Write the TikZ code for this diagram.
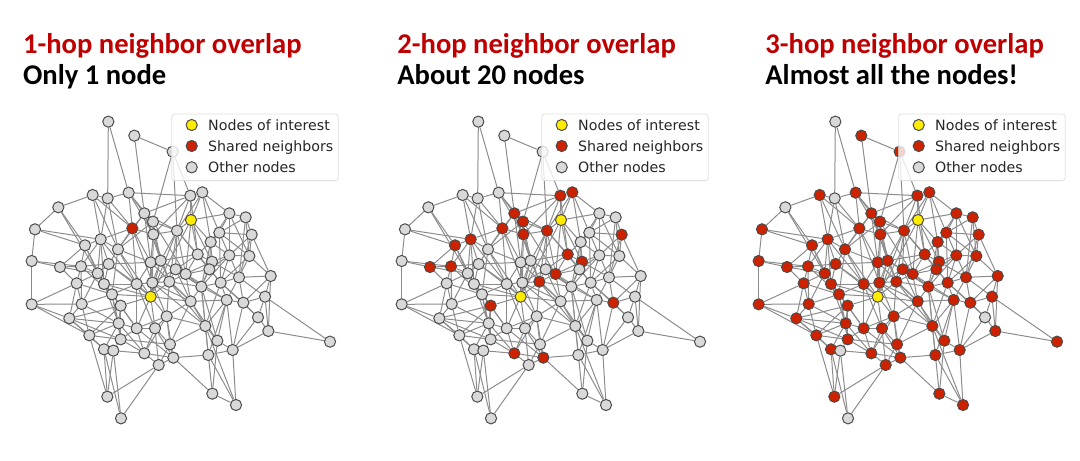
\documentclass[tikz,border=0pt]{standalone}
\usepackage{fontspec}
\newfontfamily\titlefont{Carlito}
\newfontfamily\keyfont{DejaVu Sans}
\usetikzlibrary{positioning,backgrounds}

\definecolor{titlered}{RGB}{192,0,0}
\definecolor{sharedred}{RGB}{204,34,0}
\definecolor{interest}{RGB}{255,236,0}
\definecolor{othergray}{RGB}{217,217,217}

% node number / x / y (in 1/3 px) / hops to both nodes of interest
\newcommand\netnodes{1/235/35/9, 2/313/77/3, 3/428/125/3, 4/188/255/3,
  5/233/265/9, 6/296/248/3, 7/85/292/9, 8/481/257/2, 9/517/247/2,
  10/343/310/2, 11/369/335/2, 12/483/330/0, 13/598/310/3, 14/647/322/3,
  15/15/358/3, 16/307/355/1, 17/370/373/2, 18/441/362/2, 19/665/374/2,
  20/568/368/3, 21/212/388/2, 22/165/406/2, 23/542/396/3, 24/264/418/3,
  25/503/433/2, 26/546/455/2, 27/598/436/3, 28/658/438/3, 29/5/453/3,
  30/90/471/2, 31/153/469/2, 32/236/462/3, 33/362/457/3, 34/392/452/3,
  35/437/478/3, 36/467/492/2, 37/538/478/3, 38/203/490/3, 39/140/520/3,
  40/222/522/3, 41/320/522/3, 42/367/518/3, 43/418/515/2, 44/514/530/3,
  45/572/518/3, 46/627/502/3, 47/722/498/3, 48/246/553/3, 49/362/560/0,
  50/272/587/2, 51/155/582/3, 52/5/583/3, 53/482/574/3, 54/590/570/3,
  55/640/578/2, 56/705/560/3, 57/118/625/3, 58/266/640/3, 59/320/655/3,
  60/375/655/3, 61/410/619/3, 62/526/648/3, 63/684/622/9, 64/178/676/3,
  65/272/688/3, 66/715/663/3, 67/900/695/3, 68/222/718/3, 69/250/722/9,
  70/420/703/3, 71/343/730/2, 72/430/743/2, 73/386/765/3, 74/535/735/3,
  75/608/720/3, 76/562/692/3, 77/232/860/3, 78/547/851/3, 79/618/885/3,
  80/273/925/9}

\newcommand\netedges{1/5,1/6,2/3,2/10,3/8,3/11,3/18,
  4/5,4/7,4/21,4/24,5/6,5/21,5/16,6/10,6/16,6/8,
  7/15,7/22,7/38,8/9,8/12,8/10,8/18,8/17,
  9/13,9/12,9/20,9/23,10/11,10/16,10/17,10/18,10/24,
  11/17,11/18,11/24,11/36,12/18,12/23,12/13,12/25,12/36,
  13/14,13/20,13/27,13/23,14/19,14/28,14/20,
  15/29,15/22,15/21,16/21,16/24,16/33,16/17,16/42,
  17/18,17/33,17/34,17/43,18/25,18/35,18/34,18/37,
  19/28,19/47,19/20,19/46,20/23,20/27,20/28,
  21/22,21/24,21/31,21/32,21/38,21/41,22/31,22/30,22/40,
  23/25,23/26,23/27,23/44,24/32,24/33,24/41,24/49,
  25/26,25/36,25/34,25/45,26/37,26/27,26/36,26/44,26/46,
  27/28,27/46,27/45,27/37,28/47,28/46,28/45,
  29/30,29/52,29/31,30/31,30/39,30/38,31/38,31/39,31/32,31/48,
  32/38,32/40,32/33,32/41,32/49,33/34,33/42,33/41,33/53,
  34/35,34/42,34/43,34/44,35/36,35/43,35/42,35/53,
  36/37,36/44,36/43,36/54,37/45,37/44,
  38/40,38/39,38/48,38/51,39/51,39/52,39/57,39/48,
  40/48,40/41,40/50,40/58,41/42,41/49,41/48,41/59,41/60,
  42/49,42/43,42/61,42/62,43/53,43/49,43/61,43/44,
  44/45,44/53,44/54,44/62,44/76,45/46,45/54,45/55,45/62,45/63,
  46/47,46/55,46/56,46/54,47/56,47/66,47/55,
  48/50,48/51,48/49,48/58,48/65,49/50,49/53,49/60,49/59,49/61,49/12,49/18,
  50/58,50/57,50/65,50/59,51/52,51/57,51/64,51/58,52/57,52/64,
  53/54,53/61,53/62,53/76,54/55,54/62,54/76,54/74,55/56,55/63,55/75,
  56/63,56/66,56/67,57/64,57/58,57/65,58/59,58/65,58/64,58/71,
  59/60,59/65,59/71,59/61,60/61,60/70,60/71,60/72,61/70,61/62,61/72,
  62/74,62/76,62/70,62/79,63/66,63/75,64/68,64/77,64/65,65/69,65/71,
  66/67,66/75,68/69,68/77,68/80,69/71,69/77,69/80,70/72,70/73,
  71/72,71/73,72/73,72/74,72/78,73/77,73/80,74/75,74/78,74/79,75/79,75/76,76/78,78/79,
  4/16,6/17,10/33,11/34,16/41,17/42,18/43,21/40,22/38,24/48,33/49,34/49,
  35/44,36/53,12/26,8/25,25/35,18/36,23/37,20/45,27/44,13/28,14/46,19/27,
  31/51,38/50,40/49,42/53,43/62,53/70,61/71,59/72,60/73,48/59,50/64,58/68,
  57/68,65/70,44/74,54/75,9/18,10/34,5/24,6/11}

\tikzset{
  vertex/.style={circle,draw=black!70,line width=0.5pt,inner sep=0pt,minimum size=5.6pt},
  link/.style={draw=black!45,line width=0.5pt},
  keybox/.style={draw=black!12,fill=white,fill opacity=0.8,rounded corners=1.5pt,
    minimum width=83.3pt,minimum height=33.3pt,inner sep=0pt},
  keytext/.style={font=\keyfont\fontsize{7.1}{8}\selectfont,text=black!85,
    inner sep=0pt,text height=5.2pt,text depth=0pt},
  headtext/.style={font=\titlefont\bfseries\fontsize{14.3}{16}\selectfont,
    inner sep=0pt,anchor=base west}
}

\begin{document}
\begin{tikzpicture}[x=0.5pt,y=-0.5pt]
  \useasboundingbox (0,0) rectangle (1080,460);
  \foreach \p/\dx/\hop/\tx/\headline/\subline in
    {a/0/1/22.7/{1-hop neighbor overlap}/{Only 1 node},
     b/370/2/397/{2-hop neighbor overlap}/{About 20 nodes},
     c/727/3/765/{3-hop neighbor overlap}/{Almost all the nodes!}}{
    % titles
    \node[headtext,text=titlered] (\p head) at (\tx,53.5) {\headline};
    \node[headtext] (\p sub) at (\tx,85) {\subline};
    \begin{scope}[shift={(\dx,0)}]
      % graph
      \foreach \i/\X/\Y/\h in \netnodes{
        \ifnum\h=0 \def\nc{interest}\else
          \ifnum\h>\hop \def\nc{othergray}\else \def\nc{sharedred}\fi\fi
        \node[vertex,fill=\nc] (\p\i) at ({30+\X/3},{110+\Y/3}) {};
      }
      \begin{scope}[on background layer]
        \foreach \s/\t in \netedges
          \draw[link] (\p\s) -- (\p\t);
      \end{scope}
      % legend
      \node[keybox] (\p box) at (255,147.3) {};
      \node[vertex,fill=interest] (\p key1) at (191.7,125) {};
      \node[vertex,fill=sharedred] (\p key2) at (191.7,146) {};
      \node[vertex,fill=othergray] (\p key3) at (191.7,167.3) {};
      \node[keytext,right=5pt of \p key1] (\p lab1) {Nodes of interest};
      \node[keytext,right=5pt of \p key2] (\p lab2) {Shared neighbors};
      \node[keytext,right=5pt of \p key3] (\p lab3) {Other nodes};
    \end{scope}
  }
\end{tikzpicture}
\end{document}
